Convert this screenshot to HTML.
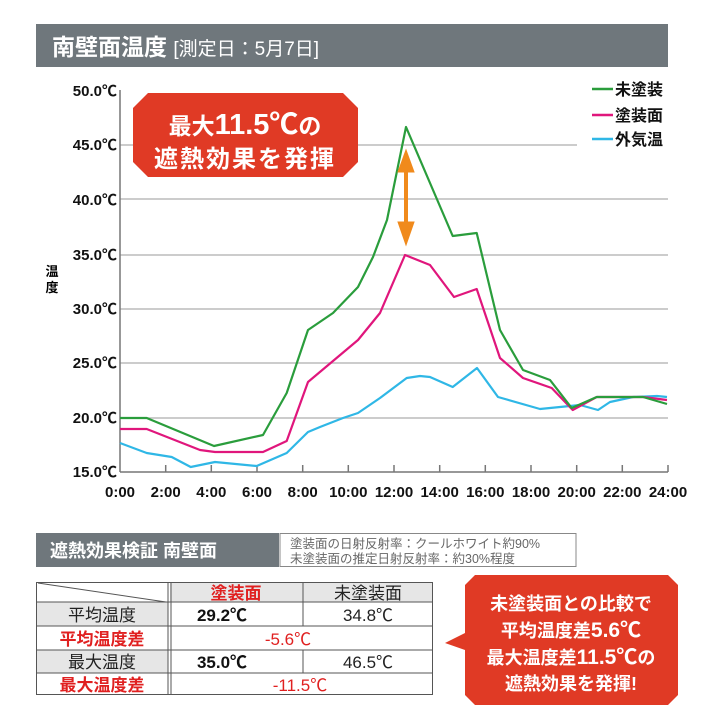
<!DOCTYPE html>
<html><head><meta charset="utf-8"><style>
body{margin:0;width:720px;height:720px;background:#fff;overflow:hidden}
</style></head><body>
<svg width="720" height="720" xmlns="http://www.w3.org/2000/svg" font-family="'Liberation Sans','Noto Sans CJK JP',sans-serif">
<rect x="36" y="24" width="632" height="43" fill="#6f777c"/>
<text x="52" y="55" fill="#fff" font-size="23" font-weight="bold">南壁面温度 <tspan font-size="19" font-weight="normal">[測定日：5月7日]</tspan></text>
<g stroke="#bbb" stroke-width="1.5">
<line x1="120" y1="145" x2="577" y2="145"/>
<line x1="120" y1="199" x2="668" y2="199"/>
<line x1="120" y1="255" x2="668" y2="255"/>
<line x1="120" y1="309" x2="668" y2="309"/>
<line x1="120" y1="363" x2="668" y2="363"/>
<line x1="120" y1="418" x2="668" y2="418"/>
</g>
<line x1="120" y1="90" x2="120" y2="472" stroke="#777" stroke-width="1.5"/>
<line x1="120" y1="472" x2="668" y2="472" stroke="#777" stroke-width="1.5"/>
<g stroke="#777" stroke-width="1.5">
<line x1="165.7" y1="465" x2="165.7" y2="472"/><line x1="211.3" y1="465" x2="211.3" y2="472"/><line x1="257" y1="465" x2="257" y2="472"/><line x1="302.7" y1="465" x2="302.7" y2="472"/><line x1="348.3" y1="465" x2="348.3" y2="472"/><line x1="394" y1="465" x2="394" y2="472"/><line x1="439.7" y1="465" x2="439.7" y2="472"/><line x1="485.3" y1="465" x2="485.3" y2="472"/><line x1="531" y1="465" x2="531" y2="472"/><line x1="576.7" y1="465" x2="576.7" y2="472"/><line x1="622.3" y1="465" x2="622.3" y2="472"/><line x1="668" y1="465" x2="668" y2="472"/>
</g>
<g font-size="15" text-anchor="end" fill="#111" font-weight="bold">
<text x="117" y="96">50.0℃</text><text x="117" y="150">45.0℃</text><text x="117" y="205">40.0℃</text><text x="117" y="260">35.0℃</text><text x="117" y="314">30.0℃</text><text x="117" y="368">25.0℃</text><text x="117" y="423">20.0℃</text><text x="117" y="477">15.0℃</text>
</g>
<g font-size="15" text-anchor="middle" fill="#111" font-weight="bold">
<text x="120" y="497">0:00</text><text x="165.7" y="497">2:00</text><text x="211.3" y="497">4:00</text><text x="257" y="497">6:00</text><text x="302.7" y="497">8:00</text><text x="348.3" y="497">10:00</text><text x="394" y="497">12:00</text><text x="439.7" y="497">14:00</text><text x="485.3" y="497">16:00</text><text x="531" y="497">18:00</text><text x="576.7" y="497">20:00</text><text x="622.3" y="497">22:00</text><text x="668" y="497">24:00</text>
</g>
<text x="52" y="276" font-size="13" font-weight="bold" text-anchor="middle">温</text>
<text x="52" y="292" font-size="13" font-weight="bold" text-anchor="middle">度</text>
<g fill="none" stroke-width="2.2" stroke-linejoin="round">
<polyline stroke="#2fb7e6" points="120,443 146.7,453 171.7,457 190.7,467 215,462 256.7,466 286.7,453 308,432 320,427 343,418 358,413 380,398 406.7,378 420,376 430,377 452.7,387 477,368 498,397 540,409 580,405 598,410 610,402 633,397 657,396 667,397"/>
<polyline stroke="#e0167c" points="120,429 146.7,429 200,450 215,452 263,452 286.7,441 308,382 358,340 380,313 405,255 430,265 454,297 476.7,289 500,358 523,378 551.7,388 572.7,410 596.7,397 643,397 667,400"/>
<polyline stroke="#2a9d3c" points="120,418 146.7,418 214,446 263,435 286.7,393 308,330 333,313 358,287 373,257 387,220 406,127 452.7,236 476.7,233 500,330 523,370 550,380 571.7,408 596.7,397 643,397 667,404"/>
</g>
<g stroke="#f08a1c" fill="#f08a1c">
<line x1="406" y1="160" x2="406" y2="232" stroke-width="4"/>
<polygon points="398,172 406,150 414,172"/>
<polygon points="398,222 406,245 414,222"/>
</g>
<polygon points="148,93 343,93 358,108 358,162 343,177 148,177 133,162 133,108" fill="#e03a25"/>
<text x="245" y="134" fill="#fff" font-size="23" font-weight="bold" text-anchor="middle">最大<tspan font-size="29">11.5℃</tspan>の</text>
<text x="245" y="167" fill="#fff" font-size="24" font-weight="bold" text-anchor="middle" letter-spacing="2">遮熱効果を発揮</text>
<g stroke-width="2.5"><line x1="592" y1="89" x2="613" y2="89" stroke="#2a9d3c"/><line x1="592" y1="115" x2="613" y2="115" stroke="#e0167c"/><line x1="592" y1="139" x2="613" y2="139" stroke="#2fb7e6"/></g>
<g font-size="16" font-weight="bold" fill="#111"><text x="615" y="95">未塗装</text><text x="615" y="121">塗装面</text><text x="615" y="145">外気温</text></g>
<rect x="36" y="533" width="243" height="34" fill="#6f777c"/>
<text x="50" y="557" fill="#fff" font-size="18" font-weight="bold">遮熱効果検証 南壁面</text>
<rect x="280" y="533.5" width="296" height="33" fill="#fff" stroke="#888"/>
<text x="290" y="548" font-size="12.5" fill="#666">塗装面の日射反射率：クールホワイト約90%</text>
<text x="290" y="563" font-size="12.5" fill="#666">未塗装面の推定日射反射率：約30%程度</text>
<rect x="170" y="582" width="262" height="20" fill="#e6e6e6"/>
<rect x="36" y="602" width="132" height="24" fill="#e6e6e6"/>
<rect x="36" y="650" width="132" height="23" fill="#e6e6e6"/>
<g stroke="#555" stroke-width="1" fill="none">
<rect x="36.5" y="582.5" width="396" height="112"/>
<line x1="36" y1="602" x2="432" y2="602"/><line x1="36" y1="626" x2="432" y2="626"/><line x1="36" y1="650" x2="432" y2="650"/><line x1="36" y1="673" x2="432" y2="673"/>
<line x1="168" y1="582" x2="168" y2="695"/><line x1="171" y1="582" x2="171" y2="695"/>
<line x1="303" y1="582" x2="303" y2="626"/><line x1="303" y1="650" x2="303" y2="673"/>
<line x1="38" y1="583" x2="166" y2="602"/>
</g>
<g font-size="17" text-anchor="middle" font-weight="bold">
<text x="236" y="599" fill="#e02020">塗装面</text><text x="368" y="599" fill="#222" font-weight="normal">未塗装面</text>
<text x="102" y="621" fill="#222" font-weight="normal">平均温度</text><text x="222" y="621" fill="#111">29.2℃</text><text x="368" y="621" fill="#222" font-weight="normal">34.8℃</text>
<text x="102" y="645" fill="#e02020">平均温度差</text><text x="288" y="645" fill="#e02020" font-weight="normal">-5.6℃</text>
<text x="102" y="668" fill="#222" font-weight="normal">最大温度</text><text x="222" y="668" fill="#111">35.0℃</text><text x="368" y="668" fill="#222" font-weight="normal">46.5℃</text>
<text x="102" y="691" fill="#e02020">最大温度差</text><text x="300" y="691" fill="#e02020" font-weight="normal">-11.5℃</text>
</g>
<polygon points="475,575 668,575 678,585 678,695 668,705 475,705 465,695 465,650 445,643 465,633 465,585" fill="#e03a25"/>
<g fill="#fff" font-size="18" font-weight="bold" text-anchor="middle">
<text x="571" y="610">未塗装面との比較で</text>
<text x="571" y="637">平均温度差<tspan font-size="21">5.6℃</tspan></text>
<text x="571" y="664">最大温度差<tspan font-size="21">11.5℃</tspan>の</text>
<text x="571" y="690">遮熱効果を発揮!</text>
</g>
</svg>
</body></html>
